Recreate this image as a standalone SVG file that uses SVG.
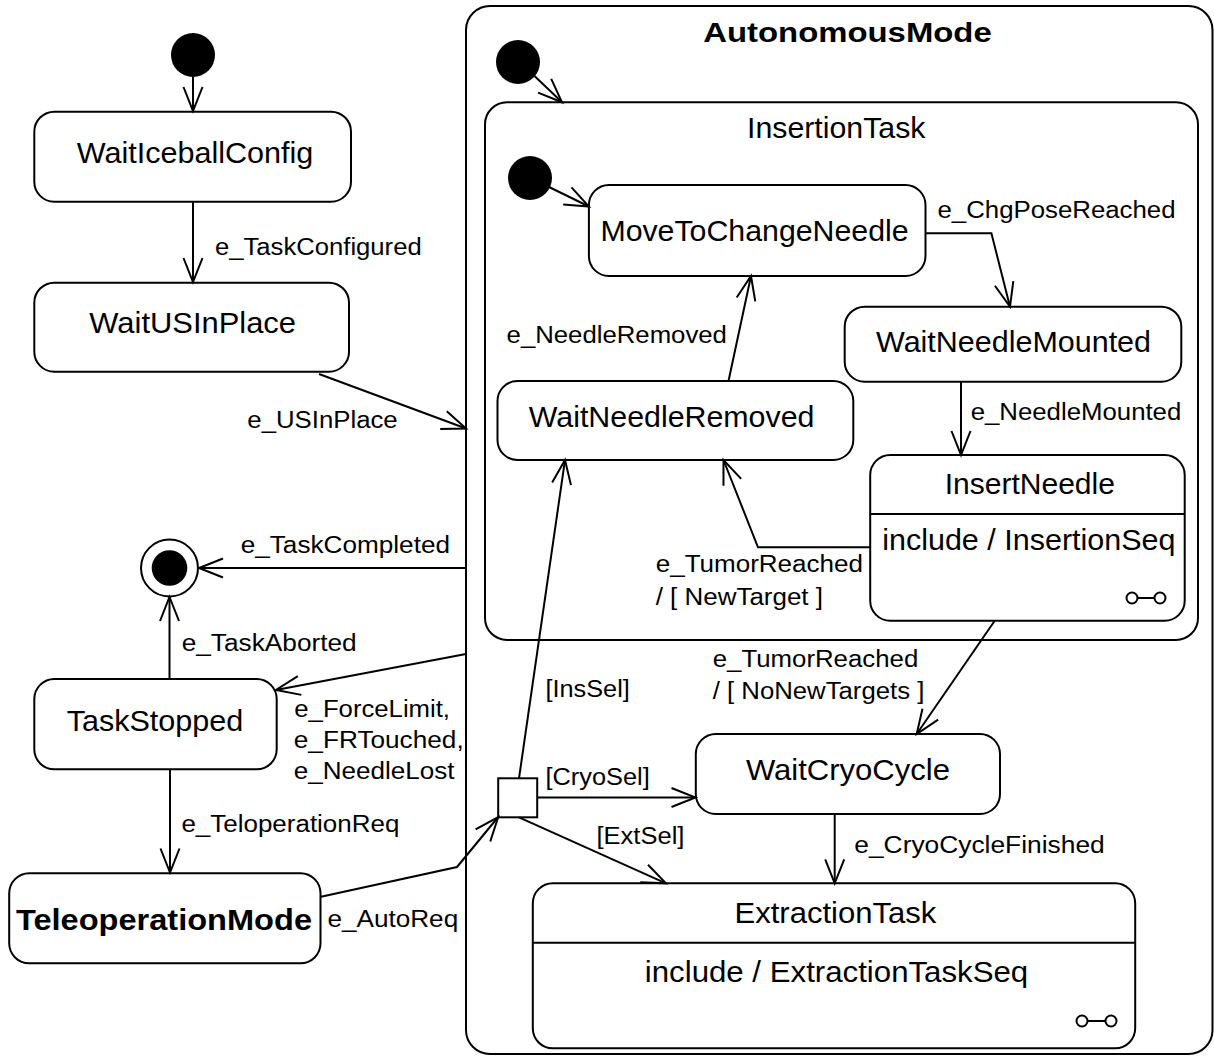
<svg xmlns="http://www.w3.org/2000/svg" width="1214" height="1057" viewBox="0 0 1214 1057">
<style>
.box{fill:#fff;stroke:#000;stroke-width:2}
.ln{fill:none;stroke:#000;stroke-width:2}
.n{font-family:"Liberation Sans",Arial,sans-serif;font-size:30px;fill:#000}
.b{font-family:"Liberation Sans",Arial,sans-serif;font-weight:bold;fill:#000}
.l{font-family:"Liberation Sans",Arial,sans-serif;font-size:23.5px;fill:#000}
.dot{fill:#000}
</style>
<defs>
<marker id="ah" markerUnits="userSpaceOnUse" markerWidth="30" markerHeight="26" viewBox="-27 -13 30 26" refX="0" refY="0" orient="auto">
<path d="M-24,-9.5 L0,0 L-24,9.5" fill="none" stroke="#000" stroke-width="2"/>
</marker>
</defs>
<rect width="1214" height="1057" fill="#fff"/>

<g id="AutonomousMode">
<rect class="box" x="466" y="6" width="746.5" height="1048" rx="24"/>
<text class="b" x="703.3" y="42" font-size="28" textLength="288.4" lengthAdjust="spacingAndGlyphs">AutonomousMode</text>
<circle class="dot" cx="518" cy="62" r="22"/>
</g>

<g id="InsertionTask">
<rect class="box" x="485" y="102.3" width="713" height="537.7" rx="22"/>
<text class="n" x="747" y="137.7" textLength="178.5" lengthAdjust="spacingAndGlyphs">InsertionTask</text>
<circle class="dot" cx="530" cy="178" r="22"/>
</g>

<g id="init">
<circle class="dot" cx="193" cy="55" r="22"/>
</g>

<g id="WaitIceballConfig">
<rect class="box" x="34.3" y="111.7" width="316.7" height="90" rx="20"/>
<text class="n" x="76.7" y="162.7" textLength="236.6" lengthAdjust="spacingAndGlyphs">WaitIceballConfig</text>
</g>

<g id="WaitUSInPlace">
<rect class="box" x="34.3" y="282.7" width="314.7" height="89" rx="20"/>
<text class="n" x="89.3" y="333.3" textLength="206.7" lengthAdjust="spacingAndGlyphs">WaitUSInPlace</text>
</g>

<g id="final">
<circle cx="169.5" cy="568" r="28.5" fill="#fff" stroke="#000" stroke-width="2"/>
<circle class="dot" cx="169.5" cy="568" r="17.8"/>
</g>

<g id="TaskStopped">
<rect class="box" x="34.3" y="679" width="242.4" height="90.3" rx="20"/>
<text class="n" x="66.7" y="731" textLength="176.6" lengthAdjust="spacingAndGlyphs">TaskStopped</text>
</g>

<g id="TeleoperationMode">
<rect class="box" x="9.2" y="873.3" width="311.3" height="90" rx="20"/>
<text class="b" x="16" y="930" font-size="30" textLength="296" lengthAdjust="spacingAndGlyphs">TeleoperationMode</text>
</g>

<g id="junction">
<rect class="box" x="498.2" y="778.3" width="39" height="39"/>
</g>

<g id="MoveToChangeNeedle">
<rect class="box" x="588.9" y="185" width="336.6" height="91" rx="20"/>
<text class="n" x="600.4" y="240.7" textLength="308.2" lengthAdjust="spacingAndGlyphs">MoveToChangeNeedle</text>
</g>

<g id="WaitNeedleMounted">
<rect class="box" x="844.7" y="306.7" width="336.6" height="75" rx="20"/>
<text class="n" x="876" y="351.7" textLength="275" lengthAdjust="spacingAndGlyphs">WaitNeedleMounted</text>
</g>

<g id="WaitNeedleRemoved">
<rect class="box" x="497.5" y="381" width="355.8" height="79" rx="20"/>
<text class="n" x="528.8" y="426.7" textLength="285.6" lengthAdjust="spacingAndGlyphs">WaitNeedleRemoved</text>
</g>

<g id="InsertNeedle">
<rect class="box" x="870.2" y="455" width="314.5" height="165.7" rx="20"/>
<line class="ln" x1="870.2" y1="514" x2="1184.7" y2="514"/>
<text class="n" x="944.7" y="494.3" textLength="170.2" lengthAdjust="spacingAndGlyphs">InsertNeedle</text>
<text class="n" x="882.2" y="550" textLength="293.3" lengthAdjust="spacingAndGlyphs">include / InsertionSeq</text>
<circle cx="1132" cy="598" r="5.5" fill="none" stroke="#000" stroke-width="2"/>
<circle cx="1160" cy="598" r="5.5" fill="none" stroke="#000" stroke-width="2"/>
<line class="ln" x1="1137.5" y1="598" x2="1154.5" y2="598"/>
</g>

<g id="WaitCryoCycle">
<rect class="box" x="695.8" y="734" width="304.2" height="80" rx="20"/>
<text class="n" x="745.9" y="780" textLength="204" lengthAdjust="spacingAndGlyphs">WaitCryoCycle</text>
</g>

<g id="ExtractionTask">
<rect class="box" x="532.8" y="883.3" width="602.4" height="165" rx="20"/>
<line class="ln" x1="532.8" y1="942.7" x2="1135.2" y2="942.7"/>
<text class="n" x="734.5" y="922.7" textLength="201.7" lengthAdjust="spacingAndGlyphs">ExtractionTask</text>
<text class="n" x="644.8" y="981.7" textLength="383.4" lengthAdjust="spacingAndGlyphs">include / ExtractionTaskSeq</text>
<circle cx="1082" cy="1021" r="5.5" fill="none" stroke="#000" stroke-width="2"/>
<circle cx="1111" cy="1021" r="5.5" fill="none" stroke="#000" stroke-width="2"/>
<line class="ln" x1="1087.5" y1="1021" x2="1105.5" y2="1021"/>
</g>

<g id="connectors">
<path class="ln" marker-end="url(#ah)" d="M193,77 L193,111"/>
<path class="ln" marker-end="url(#ah)" d="M193,202 L193,282"/>
<path class="ln" marker-end="url(#ah)" d="M319,374 L466,428.5"/>
<path class="ln" marker-end="url(#ah)" d="M466,568 L199,568"/>
<path class="ln" marker-end="url(#ah)" d="M466,654 L276,690"/>
<path class="ln" marker-end="url(#ah)" d="M169.5,679 L169.5,597"/>
<path class="ln" marker-end="url(#ah)" d="M170,769 L170,872.5"/>
<path class="ln" marker-end="url(#ah)" d="M321,896.7 L457,867 L498.2,817"/>
<path class="ln" marker-end="url(#ah)" d="M519,778.3 L565,460"/>
<path class="ln" marker-end="url(#ah)" d="M537.2,797.5 L695.5,797.5"/>
<path class="ln" marker-end="url(#ah)" d="M519,817.3 L666,883.3"/>
<path class="ln" marker-end="url(#ah)" d="M534.5,76 L562,102.3"/>
<path class="ln" marker-end="url(#ah)" d="M549,187 L588.9,206.5"/>
<path class="ln" marker-end="url(#ah)" d="M925.5,233.3 L991.4,233.3 L1010,306.7"/>
<path class="ln" marker-end="url(#ah)" d="M961,381.7 L961,455"/>
<path class="ln" marker-end="url(#ah)" d="M870.2,547.3 L758,547.3 L723.5,460"/>
<path class="ln" marker-end="url(#ah)" d="M728.5,381 L751,276"/>
<path class="ln" marker-end="url(#ah)" d="M994.7,620.7 L916.7,734"/>
<path class="ln" marker-end="url(#ah)" d="M834.7,814 L834.7,883.3"/>

<text class="l" x="215" y="255" textLength="206.7" lengthAdjust="spacingAndGlyphs">e_TaskConfigured</text>
<text class="l" x="247.3" y="428.3" textLength="150.4" lengthAdjust="spacingAndGlyphs">e_USInPlace</text>
<text class="l" x="240.7" y="553.3" textLength="209.3" lengthAdjust="spacingAndGlyphs">e_TaskCompleted</text>
<text class="l" x="181.7" y="650.7" textLength="175" lengthAdjust="spacingAndGlyphs">e_TaskAborted</text>
<text class="l" x="294.3" y="716.7" textLength="155.7" lengthAdjust="spacingAndGlyphs">e_ForceLimit,</text>
<text class="l" x="293.8" y="748.3" textLength="169.9" lengthAdjust="spacingAndGlyphs">e_FRTouched,</text>
<text class="l" x="293.8" y="779" textLength="160.7" lengthAdjust="spacingAndGlyphs">e_NeedleLost</text>
<text class="l" x="181.4" y="831.7" textLength="218" lengthAdjust="spacingAndGlyphs">e_TeloperationReq</text>
<text class="l" x="327.4" y="926.7" textLength="130.8" lengthAdjust="spacingAndGlyphs">e_AutoReq</text>
<text class="l" x="937.5" y="218.3" textLength="238" lengthAdjust="spacingAndGlyphs">e_ChgPoseReached</text>
<text class="l" x="506.6" y="343.3" textLength="220.3" lengthAdjust="spacingAndGlyphs">e_NeedleRemoved</text>
<text class="l" x="970.7" y="420" textLength="210.6" lengthAdjust="spacingAndGlyphs">e_NeedleMounted</text>
<text class="l" x="655.7" y="571.7" textLength="207.3" lengthAdjust="spacingAndGlyphs">e_TumorReached</text>
<text class="l" x="655.7" y="605" textLength="167.3" lengthAdjust="spacingAndGlyphs">/ [ NewTarget ]</text>
<text class="l" x="545.5" y="696.7" textLength="84.3" lengthAdjust="spacingAndGlyphs">[InsSel]</text>
<text class="l" x="712.7" y="666.7" textLength="205.6" lengthAdjust="spacingAndGlyphs">e_TumorReached</text>
<text class="l" x="712.7" y="699.3" textLength="211.7" lengthAdjust="spacingAndGlyphs">/ [ NoNewTargets ]</text>
<text class="l" x="545.5" y="785" textLength="104.2" lengthAdjust="spacingAndGlyphs">[CryoSel]</text>
<text class="l" x="596.5" y="844" textLength="87.9" lengthAdjust="spacingAndGlyphs">[ExtSel]</text>
<text class="l" x="854.3" y="853.3" textLength="250.4" lengthAdjust="spacingAndGlyphs">e_CryoCycleFinished</text>
</g>
</svg>
